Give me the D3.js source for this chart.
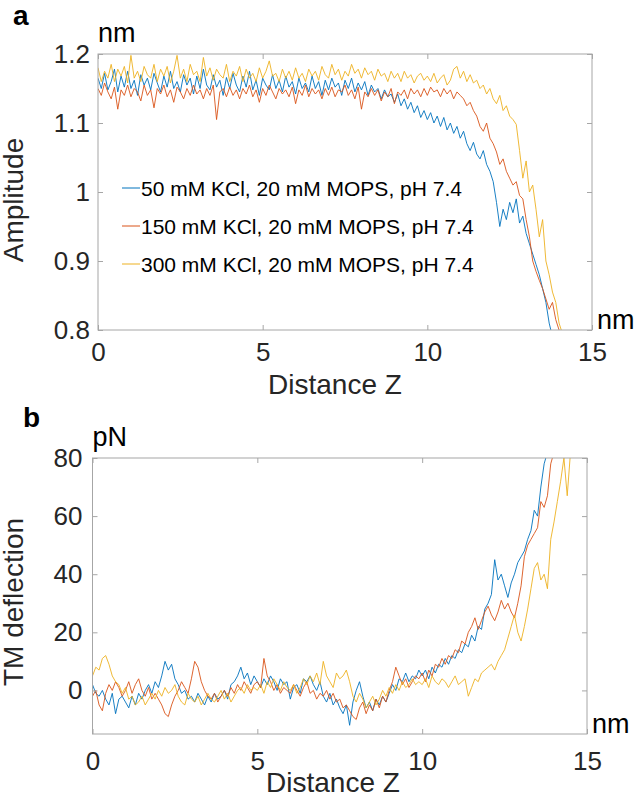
<!DOCTYPE html>
<html><head><meta charset="utf-8">
<script src="https://cdn.jsdelivr.net/npm/d3@7"></script>
<style>body{margin:0;background:#fff}svg{display:block;font-family:"Liberation Sans",Arial,sans-serif}</style>
</head><body>
<script>
// ---------- data ----------
const seriesNames = ["50 mM KCl, 20 mM MOPS, pH 7.4","150 mM KCl, 20 mM MOPS, pH 7.4","300 mM KCl, 20 mM MOPS, pH 7.4"];
const seriesColors = ["#0072BD","#D95319","#EDB120"];
const SAMPLE_STEP = 0.1; // nm between samples (sampling grid)
const xTicks = [0,5,10,15];
const xTickLabels = ["0","5","10","15"];
const ampTicks = [0.8,0.9,1.0,1.1,1.2];
const ampTickLabels = ["0.8","0.9","1","1.1","1.2"];
const defTicks = [0,20,40,60,80];
const defTickLabels = ["0","20","40","60","80"];

// Panel a: amplitude (nm)
const ampBlue = [
1.165,1.150,1.172,1.148,1.160,1.178,1.145,1.168,1.152,1.175,
1.150,1.162,1.140,1.170,1.155,1.165,1.148,1.172,1.158,1.145,
1.168,1.152,1.175,1.150,1.160,1.145,1.170,1.155,1.165,1.142,
1.168,1.150,1.178,1.155,1.148,1.170,1.152,1.162,1.140,1.166,
1.150,1.172,1.155,1.145,1.168,1.152,1.175,1.148,1.162,1.140,
1.165,1.155,1.148,1.170,1.150,1.162,1.145,1.168,1.152,1.160,
1.142,1.165,1.150,1.158,1.145,1.168,1.150,1.160,1.140,1.162,
1.148,1.165,1.152,1.158,1.140,1.162,1.150,1.165,1.145,1.158,
1.148,1.160,1.140,1.155,1.145,1.150,1.135,1.148,1.138,1.142,
1.130,1.142,1.125,1.135,1.120,1.130,1.115,1.125,1.108,1.118,
1.105,1.115,1.100,1.110,1.095,1.108,1.090,1.100,1.085,1.095,
1.078,1.088,1.070,1.060,1.072,1.055,1.048,1.060,1.040,1.030,
1.015,0.985,0.950,0.975,0.960,0.985,0.970,0.990,0.955,0.965,
0.940,0.925,0.910,0.895,0.880,0.860,0.840,0.810,0.790];
const ampRed = [
1.150,1.140,1.158,1.145,1.135,1.152,1.120,1.148,1.140,1.155,
1.138,1.150,1.145,1.132,1.155,1.140,1.148,1.122,1.150,1.142,
1.155,1.138,1.148,1.130,1.152,1.145,1.135,1.150,1.140,1.155,
1.142,1.148,1.135,1.150,1.140,1.155,1.105,1.145,1.150,1.138,
1.152,1.140,1.148,1.135,1.150,1.142,1.155,1.138,1.148,1.130,
1.150,1.140,1.155,1.145,1.135,1.150,1.142,1.148,1.138,1.152,
1.128,1.148,1.140,1.155,1.138,1.150,1.142,1.148,1.135,1.150,
1.140,1.152,1.138,1.148,1.145,1.155,1.140,1.148,1.135,1.152,
1.120,1.145,1.138,1.150,1.140,1.148,1.132,1.145,1.138,1.150,
1.128,1.145,1.140,1.148,1.135,1.150,1.142,1.148,1.138,1.150,
1.140,1.152,1.145,1.148,1.138,1.150,1.142,1.148,1.135,1.145,
1.140,1.135,1.125,1.130,1.118,1.110,1.095,1.088,1.100,1.078,
1.070,1.058,1.040,1.048,1.030,1.020,1.010,1.015,0.995,0.990,
0.960,0.935,0.900,0.885,0.872,0.860,0.845,0.830,0.840,0.815,0.800,0.790];
const ampYellow = [
1.180,1.160,1.175,1.165,1.185,1.160,1.178,1.168,1.182,1.158,
1.198,1.165,1.175,1.160,1.182,1.170,1.165,1.185,1.160,1.178,
1.168,1.182,1.158,1.175,1.198,1.165,1.178,1.160,1.185,1.170,
1.175,1.160,1.195,1.168,1.180,1.162,1.178,1.170,1.165,1.185,
1.160,1.175,1.168,1.182,1.160,1.178,1.165,1.172,1.160,1.180,
1.165,1.175,1.190,1.168,1.172,1.160,1.178,1.165,1.175,1.162,
1.180,1.165,1.172,1.160,1.178,1.168,1.175,1.162,1.182,1.170,
1.165,1.185,1.170,1.178,1.162,1.175,1.168,1.185,1.172,1.178,
1.165,1.180,1.170,1.175,1.162,1.178,1.168,1.172,1.160,1.175,
1.165,1.172,1.160,1.175,1.165,1.170,1.158,1.168,1.172,1.162,
1.168,1.160,1.172,1.158,1.165,1.170,1.155,1.162,1.178,1.182,
1.165,1.175,1.160,1.170,1.158,1.162,1.150,1.155,1.142,1.150,
1.135,1.128,1.140,1.118,1.125,1.110,1.105,1.098,1.060,1.020,
1.045,1.000,1.010,0.975,0.935,0.960,0.900,0.880,0.855,0.840,0.810,0.795];

// Panel b: TM deflection (pN)
const defBlue = [
2,-1,-2,0,-3,-5,-1,-8,-3,-2,
-4,-6,-2,-5,-1,-3,0,2,-1,3,
1,5,10,7,9,4,2,-1,0,-3,
-2,-4,-1,-3,-5,-2,-4,-1,-3,-2,
0,-3,2,3,5,8,4,6,2,5,
3,1,4,2,5,3,0,4,2,3,
-3,1,2,-1,4,3,5,2,0,3,
-2,-4,-1,-5,-3,-6,-8,-5,-12,-4,
0,3,-2,-6,-4,-7,-3,-5,-2,-4,
-1,2,0,4,3,6,3,5,4,7,
5,7,4,8,6,9,8,11,9,12,
11,14,13,16,15,19,17,22,21,28,
30,33,45,38,40,36,32,37,40,44,
46,48,52,55,62,60,70,78,82];
const defRed = [
-2,0,-5,-7,-1,2,0,3,1,-2,
0,3,-1,2,4,0,-2,1,-3,-1,
-3,-5,-8,-9,-5,-2,0,3,1,-1,
4,10,8,3,0,-2,-3,-1,-4,-2,
0,-2,1,-1,2,0,3,1,-1,2,
3,1,11,5,3,0,2,-1,1,0,
-1,2,0,-2,1,3,-1,0,-3,-1,
-2,0,-3,-1,-4,-3,-6,-5,-7,-9,
-10,-6,-4,-8,-5,-7,-3,-6,-2,-4,
0,3,8,5,2,4,1,3,5,4,
6,3,7,5,9,8,11,9,12,11,
14,13,17,16,20,22,25,21,24,27,
29,26,24,27,31,28,30,27,25,30,
36,46,50,52,54,56,65,63,67,78,82];
const defYellow = [
5,8,7,11,12,9,5,3,2,-1,
1,-3,-2,-5,-4,-2,-5,-3,-1,-3,
0,-2,1,-1,0,2,-2,-4,-5,-1,
-3,-4,-2,-5,-3,-1,-3,-4,-2,0,
-3,-1,-4,-2,0,1,-1,2,0,1,
0,2,-1,3,1,4,2,0,3,1,
0,2,-1,1,4,2,5,3,6,2,
10,5,3,1,6,4,5,7,3,-2,
-4,-1,-3,-6,-4,-2,-5,-3,0,-2,
1,-1,2,0,3,1,2,4,2,3,
2,4,1,5,3,2,4,3,1,3,
5,2,3,4,-2,1,4,3,6,7,
8,9,7,10,12,14,18,22,26,20,
17,22,28,35,42,44,38,40,35,52,
58,65,72,80,67,82];

// ---------- drawing ----------
const W = 636, H = 797;
const svg = d3.select("body").append("svg").attr("width", W).attr("height", H);
const TXT = "#262626", BOX = "#a6a6a6";

function panel(o) {
  const x = d3.scaleLinear().domain([0, 15]).range([o.left, o.right]);
  const y = d3.scaleLinear().domain(o.yDomain).range([o.bottom, o.top]);
  const g = svg.append("g");
  const clipId = "clip" + o.id;
  svg.append("clipPath").attr("id", clipId).append("rect")
    .attr("x", o.left).attr("y", o.top).attr("width", o.right - o.left).attr("height", o.bottom - o.top);

  // lines
  const line = d3.line().x((d, i) => x(i * SAMPLE_STEP)).y(d => y(d));
  o.series.forEach((s, k) => {
    g.append("path").attr("d", line(s)).attr("fill", "none")
      .attr("stroke", seriesColors[k]).attr("stroke-width", 0.9)
      .attr("clip-path", `url(#${clipId})`);
  });

  // box
  g.append("rect").attr("x", o.left).attr("y", o.top)
    .attr("width", o.right - o.left).attr("height", o.bottom - o.top)
    .attr("fill", "none").attr("stroke", BOX).attr("stroke-width", 1);

  // axes (inward ticks)
  const style = a => {
    a.select(".domain").remove();
    a.selectAll(".tick line").attr("stroke", BOX);
    a.selectAll("text").attr("fill", TXT).attr("font-size", 26)
      .attr("font-family", '"Liberation Sans", Arial, sans-serif');
  };
  g.append("g").attr("transform", `translate(0,${o.bottom})`)
    .call(d3.axisBottom(x).tickValues(xTicks).tickFormat((d, i) => xTickLabels[i]).tickSize(-5).tickPadding(o.xPad))
    .call(style);
  g.append("g").attr("transform", `translate(0,${o.top})`)
    .call(d3.axisTop(x).tickValues(xTicks).tickFormat("").tickSize(-5)).call(style);
  g.append("g").attr("transform", `translate(${o.left},0)`)
    .call(d3.axisLeft(y).tickValues(o.yTicks).tickFormat((d, i) => o.yTickLabels[i]).tickSize(-5).tickPadding(o.yPad))
    .call(style);
  g.append("g").attr("transform", `translate(${o.right},0)`)
    .call(d3.axisRight(y).tickValues(o.yTicks).tickFormat("").tickSize(-5)).call(style);

  // labels
  g.append("text").attr("x", o.xLabelX).attr("y", o.xLabelY).attr("text-anchor", "middle")
    .attr("font-size", 28).attr("fill", TXT).text("Distance Z");
  g.append("text").attr("transform", `translate(${o.yLabelX},${o.yLabelY}) rotate(-90)`)
    .attr("text-anchor", "middle").attr("font-size", 28).attr("fill", TXT).text(o.yLabel);
  g.append("text").attr("x", o.left).attr("y", o.top - 12).attr("font-size", 27)
    .attr("fill", "#000").text(o.yUnit);
  g.append("text").attr("x", o.right + 5).attr("y", o.bottom - 1).attr("font-size", 27)
    .attr("fill", "#000").text("nm");
  g.append("text").attr("x", o.letterX).attr("y", o.letterY).attr("font-size", 28)
    .attr("font-weight", "bold").attr("fill", "#000").text(o.letter);
  return {x, y, g};
}

const pa = panel({
  id: "a", left: 98, right: 592, top: 54, bottom: 330,
  yDomain: [0.8, 1.2], yTicks: ampTicks, yTickLabels: ampTickLabels,
  series: [ampBlue, ampRed, ampYellow], xPad: 13, yPad: 8,
  xLabelX: 335, xLabelY: 394, yLabelX: 23, yLabelY: 200, yLabel: "Amplitude",
  yUnit: "nm", letter: "a", letterX: 13, letterY: 25
});

const pb = panel({
  id: "b", left: 92.5, right: 587, top: 458, bottom: 734,
  yDomain: [-15, 80], yTicks: defTicks, yTickLabels: defTickLabels,
  series: [defBlue, defRed, defYellow], xPad: 18, yPad: 10,
  xLabelX: 333, xLabelY: 792, yLabelX: 23, yLabelY: 602, yLabel: "TM deflection",
  yUnit: "pN", letter: "b", letterX: 23, letterY: 427
});

// legend in panel a
const lg = svg.append("g");
seriesNames.forEach((name, k) => {
  const yy = 188 + k * 38;
  lg.append("line").attr("x1", 122).attr("x2", 140).attr("y1", yy).attr("y2", yy)
    .attr("stroke", seriesColors[k]).attr("stroke-width", 1);
  lg.append("text").attr("x", 141).attr("y", yy + 7.5).attr("font-size", 21)
    .attr("fill", "#000").text(name);
});
</script>
</body></html>
